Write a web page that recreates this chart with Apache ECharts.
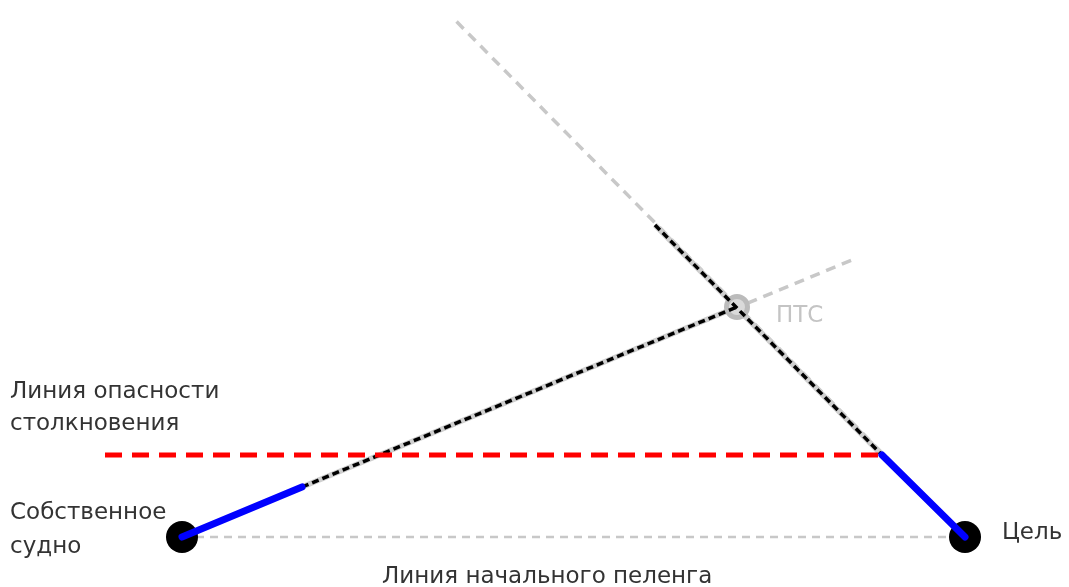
<!DOCTYPE html>
<html><head><meta charset="utf-8">
<script src="https://cdn.jsdelivr.net/npm/echarts@6/dist/echarts.min.js"></script>
<style>html,body{margin:0;padding:0;background:#fff}#c{width:1069px;height:587px}</style>
</head><body><div id="c"></div>
<script>
// Points in chart units (x to the right, y downward)
const ownShip = [182, 537];
const target = [965, 537];
const cpa = [737, 307];               // ПТС
const ownCourseEnd = [852, 260];
const targetCourseStart = [453, 18];
const ownVectorEnd = [302, 487];
const targetVectorEnd = [882, 455];
const targetRelStart = [655, 225];
const dangerLineY = 455;
const dangerLineX = [105, 882];

const labels = {
  danger: ['Линия опасности', 'столкновения'],
  own: ['Собственное', 'судно'],
  target: 'Цель',
  cpa: 'ПТС',
  bearing: 'Линия начального пеленга'
};

function seg(a, b, style, z) {
  return { type: 'line', data: [a, b], symbol: 'none', z: z || 2, silent: true,
    lineStyle: style, animation: false };
}
const grayDash = { color: '#c8c8c8', width: 3.5, type: [10, 7] };
const graySolid = { color: '#cfcfcf', width: 5.5, type: 'solid' };
const blackDash = { color: '#000', width: 3.5, type: [7, 4] };

const chart = echarts.init(document.getElementById('c'));
const txt = (text, left, top, fill, lh) => ({
  type: 'text', left: left, top: top,
  style: { text: text, fontSize: 23, fontFamily: 'DejaVu Sans', fill: fill, lineHeight: lh || 30 }
});
chart.setOption({
  animation: false,
  grid: { left: 0, right: 0, top: 0, bottom: 0 },
  xAxis: { type: 'value', min: 0, max: 1069, show: false },
  yAxis: { type: 'value', min: 0, max: 587, inverse: true, show: false },
  series: [
    seg(ownShip, target, { color: '#c8c8c8', width: 2.5, type: [8, 6] }, 1),
    seg(ownShip, ownCourseEnd, grayDash, 1),
    seg(target, targetCourseStart, grayDash, 1),
    seg(ownVectorEnd, cpa, graySolid, 2),
    seg(targetRelStart, targetVectorEnd, graySolid, 2),
    seg(ownVectorEnd, cpa, blackDash, 3),
    seg(targetRelStart, targetVectorEnd, blackDash, 3),
    seg([dangerLineX[0], dangerLineY], [dangerLineX[1], dangerLineY], { color: '#ff0000', width: 5, type: [17, 10] }, 4),
    { type: 'scatter', data: [ownShip, target], symbolSize: 32, z: 5,
      itemStyle: { color: '#000', opacity: 1 }, silent: true },
    seg(ownShip, ownVectorEnd, { color: '#0000ff', width: 7, cap: 'round' }, 6),
    seg(target, targetVectorEnd, { color: '#0000ff', width: 7, cap: 'round' }, 6),
    { type: 'scatter', data: [cpa], symbolSize: 21, z: 2, silent: true,
      itemStyle: { color: '#dadada', borderColor: '#bbbbbb', borderWidth: 5, opacity: 1 } }
  ],
  graphic: [
    txt(labels.danger.join('\n'), 10, 376, '#333', 32),
    txt(labels.own.join('\n'), 10, 496, '#333', 34),
    txt(labels.target, 1002, 518, '#333'),
    txt(labels.cpa, 776, 301, '#c4c4c4'),
    txt(labels.bearing, 382, 562, '#333')
  ]
});
</script></body></html>
